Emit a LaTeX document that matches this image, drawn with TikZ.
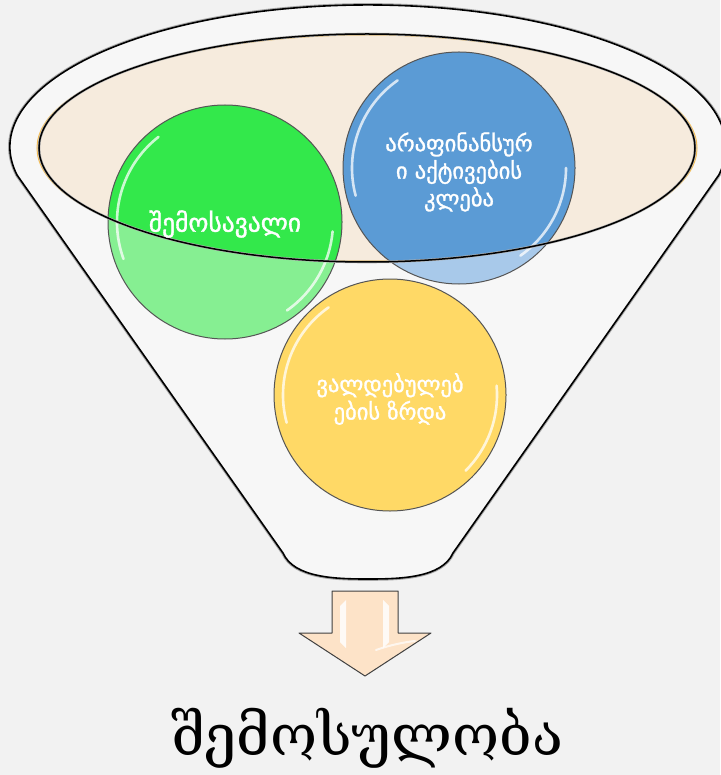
\documentclass[tikz,border=0pt]{standalone}
\usepackage{fontspec}
\newfontfamily\geosans[FakeBold=1.3]{DejaVu Sans}
\newfontfamily\geoserif{DejaVu Serif}
\definecolor{bgc}{HTML}{F2F2F2}
\definecolor{funnelc}{HTML}{F7F7F7}
\definecolor{tanc}{HTML}{F6EBDD}
\definecolor{orangec}{HTML}{F5BE55}
\definecolor{greenc}{HTML}{33E84B}
\definecolor{greenpale}{HTML}{86EF92}
\definecolor{bluec}{HTML}{5B9BD5}
\definecolor{bluepale}{HTML}{A8C9EA}
\definecolor{yellowc}{HTML}{FFD966}
\definecolor{peachc}{HTML}{FDE3C8}
\definecolor{ringc}{HTML}{555555}
\tikzset{
  funnelline/.style={line width=1.6pt, black, line join=round},
  funnelshadow/.style={line width=3.6pt, black!35, line join=round},
  ballring/.style={draw=ringc, line width=1pt},
  gloss/.style={white, line width=2.6pt, opacity=0.75, line cap=round},
  balltext/.style={text=white, align=center, font=\geosans\fontsize{22.5}{27.5}\selectfont},
}
\begin{document}
\begin{tikzpicture}[x=1pt,y=-1pt]
\fill[bgc] (0,0) rectangle (720,775);
\useasboundingbox (0,0) rectangle (720,775);
% funnel
\def\funnelpath{(17,175) arc[start angle=191.4, end angle=-11.4, x radius=358pt, y radius=142pt]
  -- (453,553) .. controls (442,578) and (400,579) .. (368,579)
  .. controls (336,579) and (294,578) .. (283,553) -- cycle}
\draw[funnelshadow] \funnelpath;
\fill[funnelc] \funnelpath;
\draw[funnelline] \funnelpath;
% inner ellipse
\fill[tanc, draw=orangec, line width=1pt] (367,148) ellipse[x radius=330pt, y radius=113pt];
% pale balls
\fill[greenpale] (225,222) circle[radius=117pt];
\fill[bluepale] (459,168) circle[radius=116pt];
\fill[yellowc] (390,395) circle[radius=116pt];
% saturated parts inside ellipse
\begin{scope}
  \clip (367,148) ellipse[x radius=328pt, y radius=114pt];
  \fill[greenc] (225,222) circle[radius=117pt];
  \fill[bluec] (459,168) circle[radius=116pt];
\end{scope}
% rings
\draw[ballring] (225,222) circle[radius=117pt];
\draw[ballring] (459,168) circle[radius=116pt];
\draw[ballring] (390,395) circle[radius=116pt];
% gloss
\draw[gloss] (225,222) ++(200:108pt) arc[start angle=200, end angle=128, radius=108pt];
\draw[gloss] (225,222) ++(-5:108pt) arc[start angle=-5, end angle=-55, radius=108pt];
\draw[gloss] (459,168) ++(195:107pt) arc[start angle=195, end angle=125, radius=107pt];
\draw[gloss] (459,168) ++(0:107pt) arc[start angle=0, end angle=-55, radius=107pt];
\draw[gloss] (390,395) ++(195:107pt) arc[start angle=195, end angle=125, radius=107pt];
\draw[gloss] (390,395) ++(5:107pt) arc[start angle=5, end angle=-45, radius=107pt];
% ellipse outline on top
\draw[line width=2.6pt, black!30] (367,148) ellipse[x radius=328pt, y radius=114pt];
\draw[line width=1.5pt, black] (367,148) ellipse[x radius=328pt, y radius=114pt];
% texts
\node[balltext, font=\geosans\fontsize{25.5}{30}\selectfont] (tgreen) at (225,224) {შემოსავალი};
\node[balltext] (tblue) at (459,172) {არაფინანსურ\\ი აქტივების\\კლება};
\node[balltext] (tyellow) at (390,399) {ვალდებულებ\\ების  ზრდა};
% arrow
\draw[fill=peachc, draw=black!75, line width=1pt, line join=round]
  (332,591) -- (398,591) -- (398,633) -- (431,633) -- (365,676) -- (299,633) -- (332,633) -- cycle;
\fill[white, opacity=0.85] (340,606) -- (346,600) -- (346,648) -- (340,642) -- cycle;
\fill[white, opacity=0.85] (383,600) -- (389,606) -- (389,642) -- (383,648) -- cycle;
\draw[white, opacity=0.7, line width=2pt, line cap=round] (376,650) .. controls (390,645) and (405,642) .. (415,641);
% bottom label
\node[font=\geoserif\fontsize{57}{64}\selectfont, text=black] (result) at (367,738) {შემოსულობა};
\end{tikzpicture}
\end{document}
